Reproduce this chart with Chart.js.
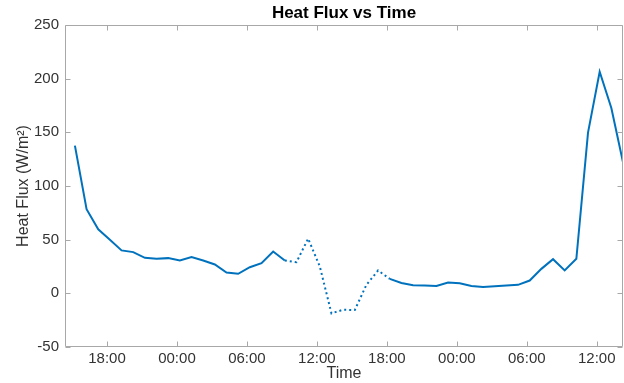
<!DOCTYPE html>
<html>
<head>
<meta charset="utf-8">
<script src="https://cdn.jsdelivr.net/npm/chart.js@4.4.1/dist/chart.umd.min.js"></script>
<style>
  html, body { margin: 0; padding: 0; background: #ffffff; }
  #wrap { width: 624px; height: 383px; position: relative; }
</style>
</head>
<body>
<div id="wrap"><canvas id="c"></canvas></div>
<script>
// Hours since 00:00 of day 1 (hourly readings starting ~15:15)
const timeHours = [
  15.25, 16.25, 17.25, 18.25, 19.25, 20.25, 21.25, 22.25, 23.25, 24.25,
  25.25, 26.25, 27.25, 28.25, 29.25, 30.25, 31.25, 32.25, 33.25, 34.25,
  35.25, 36.25, 37.25, 38.25, 39.25, 40.25, 41.25, 42.25, 43.25, 44.25,
  45.25, 46.25, 47.25, 48.25, 49.25, 50.25, 51.25, 52.25, 53.25, 54.25,
  55.25, 56.25, 57.25, 58.25, 59.25, 60.25, 61.25, 62.25
];
const heatFlux = [
  137.6, 78.4, 59.6, 50, 40, 38.4, 33.1, 32.2, 32.8, 30.6,
  33.7, 30.6, 26.9, 19.4, 18.2, 24.3, 28.1, 39, 30.6, 29,
  51, 25, -18.7, -15.3, -15.6, 8, 21.3, 13.5, 9.7, 7.5,
  7.2, 6.9, 10, 9.4, 6.9, 6, 6.6, 7.2, 7.9, 11.9,
  22.8, 31.8, 21.3, 32.2, 149.8, 206.4, 172.7, 122.1
];
// Readings flagged as dotted (start and end index of dotted stretch)
const dottedRange = [18, 27];
const xTickHours = [18, 24, 30, 36, 42, 48, 54, 60];
const yTicks = [-50, 0, 50, 100, 150, 200, 250];
const titleText = 'Heat Flux vs Time';
const xTitle = 'Time';
const yTitle = 'Heat Flux (W/m\u00B2)';

const axisColor = '#a8a8a8';
const textColor = '#333333';
const lineBlue = '#0072BD';
const fontFamily = '"Liberation Sans", Arial, Helvetica, sans-serif';

function fmtHour(v) {
  const h = ((v % 24) + 24) % 24;
  return String(h).padStart(2, '0') + ':00';
}

const points = timeHours.map((t, i) => ({ x: t, y: heatFlux[i] }));

const boxPlugin = {
  id: 'boxPlugin',
  afterDraw(chart) {
    const { ctx, chartArea: { left, right, top, bottom }, scales: { x, y } } = chart;
    ctx.save();
    ctx.strokeStyle = axisColor;
    ctx.lineWidth = 1;
    const L = Math.round(left) + 0.5, R = Math.round(right) - 0.5;
    const T = Math.round(top) + 0.5, B = Math.round(bottom) - 0.5;
    ctx.beginPath();
    ctx.rect(L, T, R - L, B - T);
    const tl = 5;
    xTickHours.forEach(v => {
      const px = Math.round(x.getPixelForValue(v)) + 0.5;
      ctx.moveTo(px, B); ctx.lineTo(px, B - tl);
      ctx.moveTo(px, T); ctx.lineTo(px, T + tl);
    });
    yTicks.forEach(v => {
      const py = Math.round(y.getPixelForValue(v)) + 0.5;
      ctx.moveTo(L, py); ctx.lineTo(L + tl, py);
      ctx.moveTo(R, py); ctx.lineTo(R - tl, py);
    });
    ctx.stroke();
    // title centred over the plot area
    ctx.fillStyle = '#000000';
    ctx.font = 'bold 17px ' + fontFamily;
    ctx.textAlign = 'center';
    ctx.textBaseline = 'middle';
    ctx.fillText(titleText, (left + right) / 2, 13);
    ctx.restore();
  }
};

new Chart(document.getElementById('c'), {
  type: 'line',
  data: {
    datasets: [{
      data: points,
      borderColor: lineBlue,
      backgroundColor: lineBlue,
      borderWidth: 2,
      pointRadius: 0,
      tension: 0,
      fill: false,
      segment: {
        borderDash: ctx => (ctx.p0DataIndex >= dottedRange[0] && ctx.p1DataIndex <= dottedRange[1]) ? [2, 3] : undefined
      }
    }]
  },
  options: {
    responsive: true,
    maintainAspectRatio: false,
    animation: false,
    layout: { padding: { top: 25, right: 1, left: 0, bottom: 0 } },
    plugins: {
      legend: { display: false },
      title: { display: false },
      tooltip: { enabled: false }
    },
    scales: {
      x: {
        type: 'linear',
        min: 14.4,
        max: 62.25,
        afterBuildTicks: s => { s.ticks = xTickHours.map(v => ({ value: v })); },
        afterFit: s => { s.height = 36; },
        grid: { display: false, drawTicks: false },
        border: { display: false },
        ticks: {
          autoSkip: false,
          maxRotation: 0,
          padding: 3,
          color: textColor,
          font: { family: fontFamily, size: 15 },
          callback: v => fmtHour(v)
        },
        title: {
          display: true,
          text: xTitle,
          color: textColor,
          font: { family: fontFamily, size: 16 },
          padding: { top: 0, bottom: 0 }
        }
      },
      y: {
        min: -50,
        max: 250,
        afterBuildTicks: s => { s.ticks = yTicks.map(v => ({ value: v })); },
        afterFit: s => { s.width = 65; },
        grid: { display: false, drawTicks: false },
        border: { display: false },
        ticks: {
          padding: 6,
          color: textColor,
          font: { family: fontFamily, size: 15 }
        },
        title: {
          display: true,
          text: yTitle,
          color: textColor,
          font: { family: fontFamily, size: 16 },
          padding: { top: 14, bottom: 0 }
        }
      }
    }
  },
  plugins: [boxPlugin]
});
</script>
</body>
</html>
